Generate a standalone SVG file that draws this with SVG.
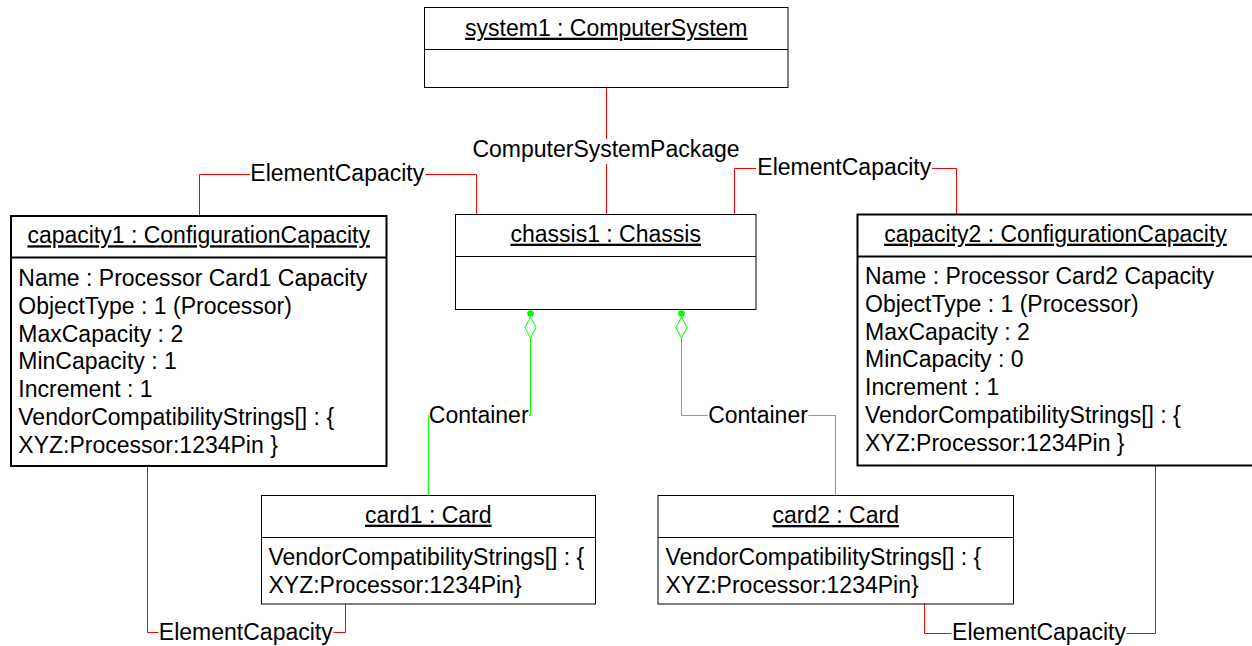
<svg xmlns="http://www.w3.org/2000/svg" width="1252" height="646" viewBox="0 0 1252 646">
<style>
text{font-family:"Liberation Sans",Arial,sans-serif;font-size:23px;fill:#000}
.t{text-anchor:middle;text-decoration:underline}
.l{text-anchor:middle}
.box{fill:#fff;stroke:#000;stroke-width:1}
.box2{fill:#fff;stroke:#000;stroke-width:2}
.div{stroke:#000;stroke-width:1}
.div2{stroke:#000;stroke-width:2}
.red{fill:none;stroke:#ff0000;stroke-width:1}
.grn{fill:none;stroke:#00ff00;stroke-width:1}
.bg{fill:#fff}
</style>
<defs>
<marker id="agg" markerUnits="userSpaceOnUse" orient="auto" refX="0" refY="0" viewBox="0 -8 32 16" markerWidth="32" markerHeight="16" overflow="visible">
<circle cx="4" cy="0" r="3.3" fill="#00ff00"/>
<polygon points="7.5,0 18,-5.5 28.5,0 18,5.5" fill="#fff" stroke="#00ff00" stroke-width="1"/>
</marker>
</defs>

<g id="connectors">
<path class="red" d="M606.5 87.5 V214.5"/>
<path class="red" d="M199.5 216 V174.5 H476.5 V214.5"/>
<path class="red" d="M734.5 214.5 V168.5 H956.5 V214.5"/>
<path class="red" d="M147.5 466 V632.5 H345.5 V604"/>
<path class="red" d="M924.5 604 V633.5 H1155.5 V465.5"/>
<path class="grn" d="M530.5 309.5 V415.5 H428.5 V495.5" marker-start="url(#agg)"/>
<path class="grn" d="M681.5 309.5 V415.5 H835.5 V495.5" marker-start="url(#agg)"/>
<rect class="bg" x="471" y="139" width="270" height="25"/>
<text class="l" x="606" y="157">ComputerSystemPackage</text>
<rect class="bg" x="250" y="163" width="175" height="24"/>
<text class="l" x="337.3" y="181">ElementCapacity</text>
<rect class="bg" x="756" y="157" width="176" height="24"/>
<text class="l" x="844.3" y="175">ElementCapacity</text>
<rect class="bg" x="158.5" y="622" width="175" height="24"/>
<text class="l" x="245.8" y="639.5">ElementCapacity</text>
<rect class="bg" x="951.5" y="622" width="175" height="24"/>
<text class="l" x="1039" y="639.5">ElementCapacity</text>
<rect class="bg" x="428.9" y="404" width="100" height="25"/>
<text class="l" x="478.7" y="422.7">Container</text>
<rect class="bg" x="707.8" y="404" width="100.5" height="25"/>
<text class="l" x="758" y="422.5">Container</text>
</g>

<g id="system1">
<rect class="box" x="424.5" y="7.5" width="363.5" height="80"/>
<line class="div" x1="424.5" y1="49.5" x2="788" y2="49.5"/>
<text class="t" x="606.3" y="35.7">system1 : ComputerSystem</text>
</g>

<g id="chassis1">
<rect class="box" x="455.5" y="214.5" width="300.5" height="95"/>
<line class="div" x1="455.5" y1="256.5" x2="756" y2="256.5"/>
<text class="t" x="605.7" y="241.7">chassis1 : Chassis</text>
</g>

<g id="capacity1">
<rect class="box2" x="11" y="216" width="375.5" height="250"/>
<line class="div2" x1="11" y1="257.5" x2="386.5" y2="257.5"/>
<text class="t" x="198.7" y="243.3">capacity1 : ConfigurationCapacity</text>
<text x="18.3" y="286">Name : Processor Card1 Capacity</text>
<text x="18.3" y="313.8">ObjectType : 1 (Processor)</text>
<text x="18.3" y="341.6">MaxCapacity : 2</text>
<text x="18.3" y="369.4">MinCapacity : 1</text>
<text x="18.3" y="397.2">Increment : 1</text>
<text x="18.3" y="425">VendorCompatibilityStrings[] : {</text>
<text x="18.3" y="452.8">XYZ:Processor:1234Pin }</text>
</g>

<g id="capacity2">
<rect class="box2" x="857.5" y="214.5" width="400" height="251"/>
<line class="div2" x1="857.5" y1="256.5" x2="1257.5" y2="256.5"/>
<text class="t" x="1055.5" y="241.7">capacity2 : ConfigurationCapacity</text>
<text x="865" y="284">Name : Processor Card2 Capacity</text>
<text x="865" y="311.8">ObjectType : 1 (Processor)</text>
<text x="865" y="339.6">MaxCapacity : 2</text>
<text x="865" y="367.4">MinCapacity : 0</text>
<text x="865" y="395.2">Increment : 1</text>
<text x="865" y="423">VendorCompatibilityStrings[] : {</text>
<text x="865" y="450.8">XYZ:Processor:1234Pin }</text>
</g>

<g id="card1">
<rect class="box" x="261.5" y="495.5" width="334" height="108.5"/>
<line class="div" x1="261.5" y1="537.5" x2="595.5" y2="537.5"/>
<text class="t" x="428.3" y="522.7">card1 : Card</text>
<text x="268.5" y="565">VendorCompatibilityStrings[] : {</text>
<text x="268.5" y="593.3">XYZ:Processor:1234Pin}</text>
</g>

<g id="card2">
<rect class="box" x="658" y="495.5" width="355.5" height="108.5"/>
<line class="div" x1="658" y1="537.5" x2="1013.5" y2="537.5"/>
<text class="t" x="835.7" y="523">card2 : Card</text>
<text x="665.5" y="564.5">VendorCompatibilityStrings[] : {</text>
<text x="665.5" y="592.5">XYZ:Processor:1234Pin}</text>
</g>
</svg>
